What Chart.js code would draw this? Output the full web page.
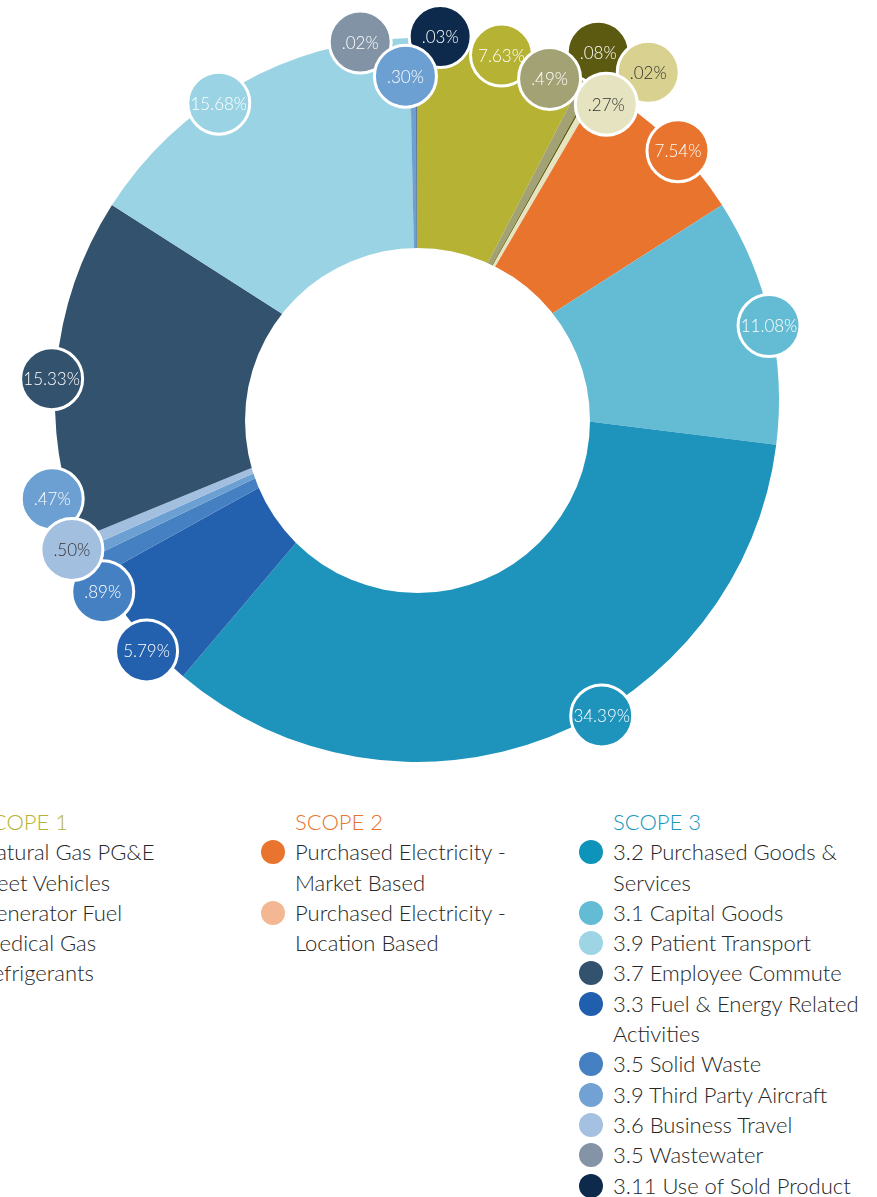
<!DOCTYPE html>
<html>
<head>
<meta charset="utf-8">
<script src="https://cdn.jsdelivr.net/npm/chart.js@4"></script>
<style>
  html, body { margin: 0; padding: 0; background: #fff; overflow: hidden; }
  body { width: 877px; height: 1197px; position: relative; font-family: 'Lato', 'Open Sans', sans-serif; }
  #chartBox { position: absolute; left: 0; top: 0; width: 877px; height: 800px; }
  .col { position: absolute; top: 807px; font-weight: 300; font-size: 22px; line-height: 30.3px; color: #262626; }
  .head { white-space: nowrap; }
  .item { position: relative; }
  .dot { position: absolute; left: -34px; top: 3px; width: 24px; height: 24px; border-radius: 50%; }
</style>
</head>
<body>
<div id="chartBox"><canvas id="c"></canvas></div>
<div id="legend"></div>
<script>
// ---- data ----
const categories = [
  'Natural Gas PG&E', 'Fleet Vehicles', 'Generator Fuel', 'Medical Gas', 'Refrigerants',
  'Purchased Electricity - Market Based',
  '3.1 Capital Goods', '3.2 Purchased Goods & Services', '3.3 Fuel & Energy Related Activities',
  '3.5 Solid Waste', '3.9 Third Party Aircraft', '3.6 Business Travel', '3.7 Employee Commute',
  '3.9 Patient Transport', '3.5 Wastewater', '3.9 Third Party Aircraft', '3.11 Use of Sold Product'
];
const values = [7.63, 0.49, 0.08, 0.02, 0.27, 7.54, 11.08, 34.39, 5.79, 0.89, 0.47, 0.50, 15.33, 15.68, 0.02, 0.30, 0.03];

const scope1Items = ['Natural Gas PG&E', 'Fleet Vehicles', 'Generator Fuel', 'Medical Gas', 'Refrigerants'];
const scope2Items = ['Purchased Electricity - Market Based', 'Purchased Electricity - Location Based'];
const scope3Items = ['3.2 Purchased Goods & Services', '3.1 Capital Goods', '3.9 Patient Transport',
  '3.7 Employee Commute', '3.3 Fuel & Energy Related Activities', '3.5 Solid Waste',
  '3.9 Third Party Aircraft', '3.6 Business Travel', '3.5 Wastewater', '3.11 Use of Sold Product'];
const scopeTitles = ['SCOPE 1', 'SCOPE 2', 'SCOPE 3'];

// ---- styles ----
const sliceColors = ['#b6b233', '#a3a274', '#5c5a10', '#d8d190', '#e6e4c0', '#e8742e',
  '#64bcd4', '#1e93bb', '#2361ae', '#4580c2', '#6c9fd2', '#a3bfe0', '#33526e',
  '#9ad3e3', '#8293a5', '#6c9fd2', '#0d2a4d'];
const scope1Colors = ['#b6b233', '#a3a274', '#5c5a10', '#d8d190', '#e6e4c0'];
const scope2Colors = ['#e8742e', '#f3b893'];
const scope3Colors = ['#0e93bb', '#64bcd4', '#9dd5e4', '#33526e', '#1f5fae', '#4580c2', '#72a2d4', '#a5c1e2', '#8494a6', '#0d2a4d'];
const titleColors = ['#b6b233', '#e8742e', '#1598c0'];
const colLeft = [-20, 295, 613];
const colWidth = [300, 240, 254];

// label bubble placement: angle offset from slice middle (deg), radius as share of outer radius
const bubbleAngleOffset = [0.1, -5.8, -1.7, 5.8, 2.7, 2.4, 0.8, -9.0, -3.5, -4.0, 9.8, -0.2, -1.8, -4.4, -7.8, -1.4, 3.7];
const bubbleRadiusRatio = [0.981, 0.961, 1.083, 1.108, 0.970, 0.997, 0.994, 1.011, 1.019, 1.017, 1.044, 1.039, 1.011, 0.986, 1.001, 0.895, 1.006];
const bubbleDarkText = [false, false, false, true, true, false, false, false, false, false, false, true, false, false, false, false, false];
const bubbleDrawOrder = [0, 2, 1, 3, 4, 5, 6, 7, 8, 10, 9, 11, 12, 13, 14, 16, 15];

function fmt(v) {
  const s = v.toFixed(2);
  return (v < 1 ? s.replace(/^0/, '') : s) + '%';
}

const bubblePlugin = {
  id: 'bubbles',
  afterDatasetsDraw(chart) {
    const ctx = chart.ctx;
    const meta = chart.getDatasetMeta(0);
    const p0 = meta.data[0].getProps(['x', 'y', 'outerRadius'], true);
    const R = p0.outerRadius;
    // off-centre white hole
    ctx.save();
    ctx.fillStyle = '#ffffff';
    ctx.beginPath();
    ctx.arc(p0.x + 0.0014 * R, p0.y + 0.0566 * R, 0.4765 * R, 0, Math.PI * 2);
    ctx.fill();
    ctx.restore();
    // bubbles
    bubbleDrawOrder.forEach(i => {
      const el = meta.data[i];
      const p = el.getProps(['x', 'y', 'startAngle', 'endAngle', 'outerRadius'], true);
      const a = (p.startAngle + p.endAngle) / 2 + bubbleAngleOffset[i] * Math.PI / 180;
      const r = bubbleRadiusRatio[i] * p.outerRadius;
      const bx = p.x + Math.cos(a) * r;
      const by = p.y + Math.sin(a) * r;
      ctx.save();
      ctx.beginPath();
      ctx.arc(bx, by, 31, 0, Math.PI * 2);
      ctx.fillStyle = sliceColors[i];
      ctx.fill();
      ctx.lineWidth = 3;
      ctx.strokeStyle = '#ffffff';
      ctx.stroke();
      ctx.fillStyle = bubbleDarkText[i] ? '#333333' : '#ffffff';
      ctx.font = '300 17px Lato, "Open Sans", sans-serif';
      ctx.textAlign = 'center';
      ctx.textBaseline = 'middle';
      ctx.fillText(fmt(values[i]), bx, by + 1);
      ctx.restore();
    });
  }
};

new Chart(document.getElementById('c'), {
  type: 'doughnut',
  data: {
    labels: categories,
    datasets: [{ data: values, backgroundColor: sliceColors, borderWidth: 0, hoverOffset: 0 }]
  },
  options: {
    responsive: true,
    maintainAspectRatio: false,
    animation: false,
    events: [],
    cutout: '40%',
    layout: { padding: { left: 55, right: 98, top: 38, bottom: 38 } },
    plugins: { legend: { display: false }, tooltip: { enabled: false } }
  },
  plugins: [bubblePlugin]
});

// ---- legend ----
const legend = document.getElementById('legend');
[[scope1Items, scope1Colors], [scope2Items, scope2Colors], [scope3Items, scope3Colors]].forEach(([items, cols], k) => {
  const col = document.createElement('div');
  col.className = 'col';
  col.style.left = colLeft[k] + 'px';
  col.style.width = colWidth[k] + 'px';
  const h = document.createElement('div');
  h.className = 'head';
  h.style.color = titleColors[k];
  h.textContent = scopeTitles[k];
  col.appendChild(h);
  items.forEach((name, j) => {
    const it = document.createElement('div');
    it.className = 'item';
    const d = document.createElement('span');
    d.className = 'dot';
    d.style.background = cols[j];
    it.appendChild(d);
    it.appendChild(document.createTextNode(name));
    col.appendChild(it);
  });
  legend.appendChild(col);
});
</script>
</body>
</html>
